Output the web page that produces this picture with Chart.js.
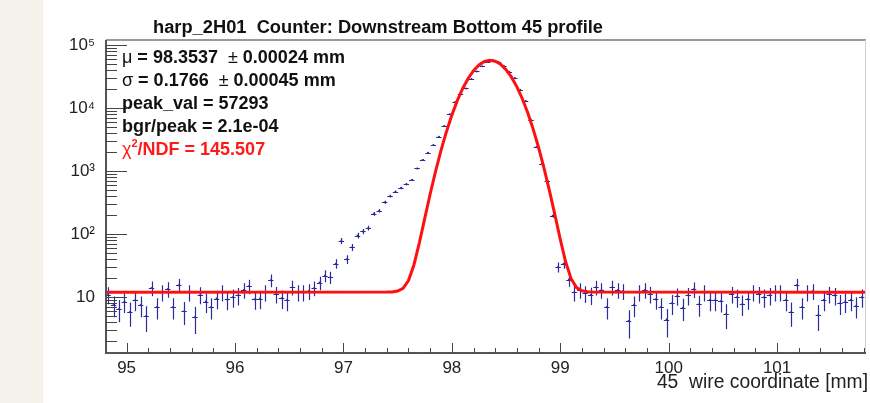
<!DOCTYPE html>
<html>
<head>
<meta charset="utf-8">
<script src="https://cdn.jsdelivr.net/npm/chart.js@4.4.0/dist/chart.umd.min.js"></script>
<style>
  html, body { margin: 0; padding: 0; background: #fff; }
  #wrap { width: 870px; height: 403px; }
</style>
</head>
<body>
<div id="wrap"><canvas id="profile_chart" width="870" height="403"></canvas></div>
<script>
// wire positions of the harp bins [mm]
const binX = [
  94.83, 94.88, 94.93, 94.98, 95.03, 95.08, 95.13, 95.18, 95.23, 95.28,
  95.33, 95.38, 95.43, 95.48, 95.53, 95.58, 95.63, 95.68, 95.73, 95.78,
  95.83, 95.88, 95.93, 95.98, 96.03, 96.08, 96.13, 96.18, 96.23, 96.28,
  96.33, 96.38, 96.43, 96.48, 96.53, 96.58, 96.63, 96.68, 96.73, 96.78,
  96.83, 96.88, 96.93, 96.98, 97.03, 97.08, 97.13, 97.18, 97.23, 97.28,
  97.33, 97.38, 97.43, 97.48, 97.53, 97.58, 97.63, 97.68, 97.73, 97.78,
  97.83, 97.88, 97.93, 97.98, 98.03, 98.08, 98.13, 98.18, 98.23, 98.28,
  98.33, 98.38, 98.43, 98.48, 98.53, 98.58, 98.63, 98.68, 98.73, 98.78,
  98.83, 98.88, 98.93, 98.98, 99.03, 99.08, 99.13, 99.18, 99.23, 99.28,
  99.33, 99.38, 99.43, 99.48, 99.53, 99.58, 99.63, 99.68, 99.73, 99.78,
  99.83, 99.88, 99.93, 99.98, 100.03, 100.08, 100.13, 100.18, 100.23, 100.28,
  100.33, 100.38, 100.43, 100.48, 100.53, 100.58, 100.63, 100.68, 100.73, 100.78,
  100.83, 100.88, 100.93, 100.98, 101.03, 101.08, 101.13, 101.18, 101.23, 101.28,
  101.33, 101.38, 101.43, 101.48, 101.53, 101.58, 101.63, 101.68, 101.73, 101.78
];

// counts per bin
const counts = [
  11, 7.5, 6.5, 8.5, 5.8, 9, 7.5, 5, 14, 7,
  12, 13.5, 7, 15.5, 6, 12, 4.8, 11, 8.5, 7,
  9.5, 12, 9.2, 10, 10.7, 13, 15, 9.3, 9.5, 12,
  18.6, 11.2, 9.6, 9, 14.4, 12, 12, 12.5, 14, 17,
  22, 20.7, 34, 78, 40, 62, 95, 110, 125, 210,
  235, 320, 400, 470, 540, 620, 720, 1100, 1500, 1950,
  2600, 3500, 5200, 8000, 12500, 16500, 20500, 29000, 38000, 46000,
  54000, 57500, 54000, 46500, 37500, 30000, 19500, 12900, 6500, 2400,
  1300, 700, 195, 30, 34, 19, 12, 13, 11.5, 10.8,
  14.4, 13, 7, 14.4, 13, 12.5, 4.2, 7.5, 12, 13,
  11.2, 9.3, 7, 4.4, 8, 10.5, 6.8, 10.7, 13.4, 7.7,
  12, 9, 9, 8.6, 5.4, 11.2, 10, 7.8, 9.3, 12,
  11.2, 10, 10.7, 12, 12, 9, 5.8, 15.5, 7, 12,
  12.5, 5.2, 9, 11.2, 10.7, 8, 8.5, 9, 7.3, 10
];

// error on each count
const errors = [
  3.3, 2.7, 2.5, 2.9, 2.4, 3, 2.7, 2.2, 3.7, 2.6,
  3.5, 3.7, 2.6, 3.9, 2.4, 3.5, 2.2, 3.3, 2.9, 2.6,
  3.1, 3.5, 3, 3.2, 3.3, 3.6, 3.9, 3, 3.1, 3.5,
  4.3, 3.3, 3.1, 3, 3.8, 3.5, 3.5, 3.5, 3.7, 4.1,
  4.7, 4.5, 5.8, 8.8, 6.3, 7.9, 9.7, 10.5, 11.2, 14.5,
  15.3, 17.9, 20, 21.7, 23.2, 24.9, 26.8, 33.2, 38.7, 44.2,
  51, 59, 72, 89, 112, 128, 143, 170, 195, 214,
  232, 240, 232, 216, 194, 173, 140, 114, 81, 49,
  36, 26.5, 14, 5.5, 5.8, 4.4, 3.5, 3.6, 3.4, 3.3,
  3.8, 3.6, 2.6, 3.8, 3.6, 3.5, 2, 2.7, 3.5, 3.6,
  3.3, 3, 2.6, 2.1, 2.8, 3.2, 2.6, 3.3, 3.7, 2.8,
  3.5, 3, 3, 2.9, 2.3, 3.3, 3.2, 2.8, 3, 3.5,
  3.3, 3.2, 3.3, 3.5, 3.5, 3, 2.4, 3.9, 2.6, 3.5,
  3.5, 2.3, 3, 3.3, 3.3, 2.8, 2.9, 3, 2.7, 3.2
];

// gaussian + background fit curve
const fitX = [
  94.81, 97.40, 97.45, 97.50, 97.55, 97.60, 97.65, 97.70, 97.75, 97.80,
  97.85, 97.90, 97.95, 98.00, 98.05, 98.10, 98.15, 98.20, 98.25, 98.30,
  98.35, 98.40, 98.45, 98.50, 98.55, 98.60, 98.65, 98.70, 98.75, 98.80,
  98.85, 98.90, 98.95, 99.00, 99.05, 99.10, 99.15, 99.20, 99.25, 99.30,
  101.82
];
const fitY = [
  12, 12.03, 12.1, 12.5, 13.8, 18.3, 32.4, 72.7, 178, 432,
  993, 2125, 4213, 7722, 13075, 20426, 29473, 39241, 48230, 54716,
  57292, 55369, 49387, 40661, 30899, 21675, 14037, 8390, 4632, 2363,
  1117, 491, 204, 82.8, 36.1, 19.6, 14.2, 12.6, 12.15, 12.03,
  12
];

const xTicks = [95, 96, 97, 98, 99, 100, 101];
const yTicks = [10, 100, 1000, 10000, 100000];

const title = "harp_2H01  Counter: Downstream Bottom 45 profile";
const xTitle = "45  wire coordinate [mm]";
const statLines = [
  [["μ", false], [" = 98.3537  ", true], ["±", false], [" 0.00024 mm", true]],
  [["σ", false], [" = 0.1766  ", true], ["±", false], [" 0.00045 mm", true]],
  [["peak_val = 57293", true]],
  [["bgr/peak = 2.1e-04", true]],
];
const chiText = ["χ", "2", "/NDF = 145.507"];

const BIN_WIDTH = 0.05;
const DATA_COLOR = "#2b2b9e";
const FONT = "'Liberation Sans', Arial, Helvetica, sans-serif";
const SUP = { 0: "⁰", 1: "¹", 2: "²", 3: "³", 4: "⁴", 5: "⁵", 6: "⁶" };

// histogram error bars (vertical error + bin width), drawn under the fit
const errorBars = {
  id: "errorBars",
  beforeDatasetsDraw(chart) {
    const { ctx, chartArea: a, scales } = chart;
    const x = scales.x, y = scales.y;
    ctx.save();
    ctx.beginPath();
    ctx.rect(a.left, a.top, a.right - a.left, a.bottom - a.top);
    ctx.clip();
    ctx.strokeStyle = DATA_COLOR;
    ctx.lineWidth = 1.2;
    ctx.beginPath();
    binX.forEach((bx, i) => {
      const v = counts[i];
      const e = errors[i];
      const px = Math.round(x.getPixelForValue(bx)) + 0.5;
      const py = Math.round(y.getPixelForValue(v)) + 0.5;
      ctx.moveTo(px, y.getPixelForValue(v + e));
      ctx.lineTo(px, y.getPixelForValue(Math.max(v - e, y.min)));
      ctx.moveTo(x.getPixelForValue(bx - BIN_WIDTH / 2), py);
      ctx.lineTo(x.getPixelForValue(bx + BIN_WIDTH / 2), py);
    });
    ctx.stroke();
    ctx.restore();
  },
};

// ROOT style frame, inner ticks and texts
const rootFrame = {
  id: "rootFrame",
  beforeDraw(chart) {
    const { ctx, width, height } = chart;
    ctx.save();
    ctx.fillStyle = "#ffffff";
    ctx.fillRect(0, 0, width, height);
    ctx.fillStyle = "#f5f2ec";
    ctx.fillRect(0, 0, 43, height);
    ctx.restore();
  },
  afterDraw(chart) {
    const { ctx, chartArea: a, scales } = chart;
    const x = scales.x, y = scales.y;
    ctx.save();

    // frame
    ctx.strokeStyle = "#9a9a9a";
    ctx.lineWidth = 2;
    ctx.beginPath();
    ctx.moveTo(a.left, a.top);
    ctx.lineTo(a.right, a.top);
    ctx.stroke();
    ctx.strokeStyle = "#cfcfcf";
    ctx.lineWidth = 1;
    ctx.beginPath();
    ctx.moveTo(a.right - 0.5, a.top);
    ctx.lineTo(a.right - 0.5, a.bottom);
    ctx.stroke();
    ctx.strokeStyle = "#555";
    ctx.lineWidth = 2;
    ctx.beginPath();
    ctx.moveTo(a.left, a.top);
    ctx.lineTo(a.left, a.bottom);
    ctx.lineTo(a.right, a.bottom);
    ctx.stroke();

    // y ticks (log decades with 2..9 minors)
    ctx.lineWidth = 1;
    ctx.strokeStyle = "#444";
    ctx.beginPath();
    for (let e = 0; e <= 5; e++) {
      for (let m = 1; m <= 9; m++) {
        const v = m * Math.pow(10, e);
        if (v < y.min || v > y.max) continue;
        const py = Math.round(y.getPixelForValue(v)) + 0.5;
        ctx.moveTo(a.left, py);
        ctx.lineTo(a.left + (m === 1 ? 21 : 11), py);
      }
    }
    // x ticks every 0.2 mm
    for (let k = 475; k <= 509; k++) {
      const px = Math.round(x.getPixelForValue(k / 5)) + 0.5;
      ctx.moveTo(px, a.bottom);
      ctx.lineTo(px, a.bottom - (k % 5 === 0 ? 10 : 5));
    }
    ctx.stroke();

    // title
    ctx.fillStyle = "#111";
    ctx.textBaseline = "middle";
    ctx.textAlign = "center";
    ctx.font = "bold 18.3px " + FONT;
    ctx.fillText(title, 378, 28);

    // x axis title
    ctx.textAlign = "right";
    ctx.font = "19.3px " + FONT;
    ctx.fillStyle = "#222";
    ctx.fillText(xTitle, 868, 383);

    // fit statistics
    ctx.textAlign = "left";
    const lineY = [58, 81, 104, 127];
    statLines.forEach((parts, li) => {
      let cx = 122;
      parts.forEach(([txt, bold]) => {
        ctx.font = (bold ? "bold " : "") + "18px " + FONT;
        ctx.fillStyle = "#111";
        ctx.fillText(txt, cx, lineY[li]);
        cx += ctx.measureText(txt).width;
      });
    });
    ctx.fillStyle = "#ff1a1a";
    let cx = 122;
    ctx.font = "18px " + FONT;
    ctx.fillText(chiText[0], cx, 150);
    cx += ctx.measureText(chiText[0]).width;
    ctx.font = "bold 11px " + FONT;
    ctx.fillText(chiText[1], cx, 144);
    cx += ctx.measureText(chiText[1]).width;
    ctx.font = "bold 18px " + FONT;
    ctx.fillText(chiText[2], cx, 150);

    ctx.restore();
  },
};

const profile_ctx = document.getElementById("profile_chart");

const profile_config = {
  type: "scatter",
  data: {
    datasets: [
      {
        label: "fit",
        data: fitX.map((fx, i) => ({ x: fx, y: fitY[i] })),
        showLine: true,
        borderColor: "#ff1010",
        borderWidth: 3,
        pointRadius: 0,
        tension: 0,
      },
      {
        label: "data",
        data: binX.map((bx, i) => ({ x: bx, y: counts[i] })),
        showLine: false,
        pointRadius: 1,
        pointBackgroundColor: DATA_COLOR,
        pointBorderWidth: 0,
      },
    ],
  },
  options: {
    responsive: false,
    animation: false,
    layout: { padding: { top: 40, right: 1, left: 0, bottom: 0 } },
    plugins: {
      legend: { display: false },
      tooltip: { enabled: false },
    },
    scales: {
      x: {
        type: "linear",
        min: 94.81,
        max: 101.82,
        grid: { display: false, drawTicks: false },
        border: { display: false },
        afterBuildTicks: (s) => { s.ticks = xTicks.map((v) => ({ value: v })); },
        afterFit: (s) => { s.height = 50; },
        ticks: {
          autoSkip: false,
          maxRotation: 0,
          padding: 5,
          color: "#222",
          font: { family: FONT, size: 17 },
          callback: (v) => String(v),
        },
      },
      y: {
        type: "logarithmic",
        min: 1.3,
        max: 120000,
        grid: { display: false, drawTicks: false },
        border: { display: false },
        afterBuildTicks: (s) => { s.ticks = yTicks.map((v) => ({ value: v })); },
        afterFit: (s) => { s.width = 106; },
        ticks: {
          autoSkip: false,
          padding: 11,
          color: "#222",
          font: { family: FONT, size: 17 },
          callback: (v) => {
            const e = Math.round(Math.log10(v));
            return e === 1 ? "10" : "10" + SUP[e];
          },
        },
      },
    },
  },
  plugins: [errorBars, rootFrame],
};

const profile_chart = new Chart(profile_ctx, profile_config);
</script>
</body>
</html>
